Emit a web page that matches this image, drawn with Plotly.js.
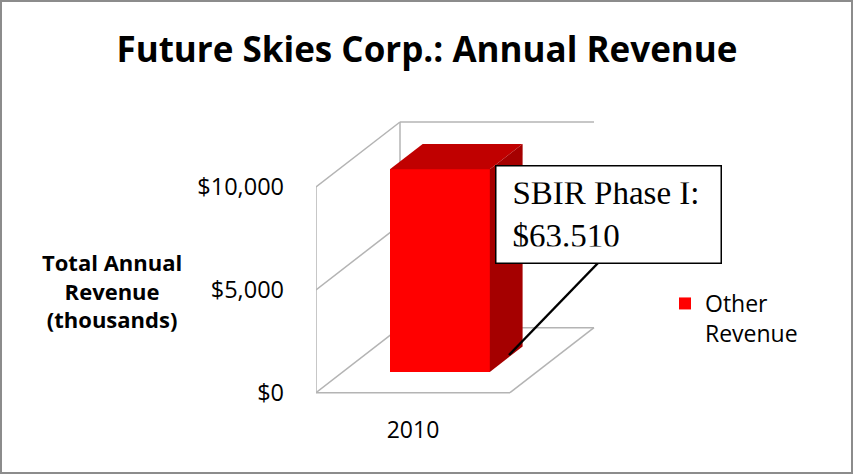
<!DOCTYPE html>
<html>
<head>
<meta charset="utf-8">
<script src="https://cdn.plot.ly/plotly-3.0.1.min.js"></script>
<style>html,body{margin:0;padding:0;background:#fff;}#chart{width:854px;height:475px;}</style>
</head>
<body>
<div id="chart"></div>
<script>
// ---- data ----
var years = ['2010'];
var otherRevenue = [9850];
var yTickVals = [0, 5000, 10000];
var yTickText = ['$0', '$5,000', '$10,000'];
var seriesName = 'Other<br>Revenue';
var chartTitle = 'Future Skies Corp.: Annual Revenue';
var yTitle = 'Total Annual<br>Revenue<br>(thousands)';
var calloutText = 'SBIR Phase I:<br>$63.510';

// ---- 3D projection style ----
var W = 854, H = 475;
var M = {l: 316, r: 247, t: 115, b: 72};
var xRange = [-0.5, 1.0], yRange = [-500, 13500];
var depthX = 0.433, depthY = 3160;    // oblique depth offset in axis units
var barFront = 0.32, barBack = 0.71;  // bar depth position (fraction)
var barWidth = 0.515;
var gridColor = '#b4b4b4';

var pw = W - M.l - M.r, ph = H - M.t - M.b;
function pxX(p){ return (p - M.l) / pw; }
function pxY(p){ return (H - M.b - p) / ph; }

var idx = years.map(function(_, i){ return i; });
var yMax = yTickVals[yTickVals.length - 1];
var x0 = idx[0] - 0.5, x1 = idx[idx.length - 1] + 0.5;

// walls and grid
var shapes = [];
function ln(ax, ay, bx, by){
  shapes.push({type:'line', layer:'below', xref:'x', yref:'y', x0:ax, y0:ay, x1:bx, y1:by,
    line:{color:gridColor, width:1.5}});
}
ln(x0, 0, x0, yMax);
yTickVals.forEach(function(t){
  ln(x0, t, x0 + depthX, t + depthY);
  ln(x0 + depthX, t + depthY, x1 + depthX, t + depthY);
});
ln(x0 + depthX, depthY, x0 + depthX, yMax + depthY);
ln(x0, 0, x1, 0);
ln(x1, 0, x1 + depthX, depthY);

// callout leader line
shapes.push({type:'line', xref:'paper', yref:'paper', x0:pxX(598), y0:pxY(263), x1:pxX(509), y1:pxY(355),
  line:{color:'#000', width:2.5}});
// outer chart border
shapes.push({type:'rect', xref:'paper', yref:'paper', x0:pxX(1), y0:pxY(1), x1:pxX(W-2), y1:pxY(H-2),
  line:{color:'#8c8c8c', width:2}, layer:'above'});

var traces = [];
var fx = barFront * depthX, fy = barFront * depthY;
var bx = barBack * depthX, by = barBack * depthY;
traces.push({
  type:'bar', name: seriesName,
  x: idx.map(function(i){ return i + fx; }),
  y: otherRevenue,
  base: otherRevenue.map(function(){ return fy; }),
  width: barWidth,
  marker:{color:'#ff0000', line:{width:0}},
  hoverinfo:'skip', showlegend:true
});
idx.forEach(function(i, k){
  var v = otherRevenue[k];
  var L = i + fx - barWidth/2, R = i + fx + barWidth/2;
  var ddx = bx - fx, ddy = by - fy;
  // top face
  traces.push({type:'scatter', mode:'lines', fill:'toself', fillcolor:'#c00000',
    x:[L, L+ddx, R+ddx, R, L], y:[v+fy, v+fy+ddy, v+fy+ddy, v+fy, v+fy],
    line:{width:0, color:'#c00000'}, showlegend:false, hoverinfo:'skip'});
  // side face
  traces.push({type:'scatter', mode:'lines', fill:'toself', fillcolor:'#a50000',
    x:[R, R+ddx, R+ddx, R, R], y:[fy, fy+ddy, v+fy+ddy, v+fy, fy],
    line:{width:0, color:'#a50000'}, showlegend:false, hoverinfo:'skip'});
});

var layout = {
  width: W, height: H,
  margin: M,
  paper_bgcolor:'#fff', plot_bgcolor:'rgba(0,0,0,0)',
  font:{family:'Open Sans, sans-serif', color:'#000', size:20},
  title:{text:'<b>' + chartTitle + '</b>', x:0.5, xanchor:'center', y:1 - 50/H, yanchor:'middle', yref:'container',
    font:{family:'Open Sans, sans-serif', size:35, color:'#000'}},
  xaxis:{range:xRange, tickvals:idx, ticktext:years, showgrid:false, zeroline:false, showline:false,
    ticks:'', ticklabelstandoff:11, tickfont:{size:23}, fixedrange:true},
  yaxis:{range:yRange, tickvals:yTickVals, ticktext:yTickText, showgrid:false, zeroline:false,
    showline:false, ticks:'', ticklabelstandoff:31, tickfont:{size:23.5}, fixedrange:true},
  showlegend:true,
  legend:{x:pxX(665), y:pxY(282), xanchor:'left', yanchor:'top', bgcolor:'rgba(0,0,0,0)',
    font:{size:23}, itemwidth:30, valign:'top'},
  bargap:0,
  shapes: shapes,
  annotations:[
    {text:'<b>' + yTitle + '</b>', xref:'paper', yref:'paper', x:pxX(112), y:pxY(290),
      xanchor:'center', yanchor:'middle',
      showarrow:false, align:'center', font:{size:22}},
    {text:calloutText, xref:'paper', yref:'paper', x:pxX(608), y:pxY(214), xanchor:'center', yanchor:'middle',
      showarrow:false, align:'left', width:192, height:64, borderpad:16, borderwidth:1.5, bordercolor:'#000',
      bgcolor:'#fff', font:{family:'Liberation Serif, Times New Roman, serif', size:33, color:'#000'}}
  ]
};

Plotly.newPlot('chart', traces, layout, {displayModeBar:false, staticPlot:true});
</script>
</body>
</html>
